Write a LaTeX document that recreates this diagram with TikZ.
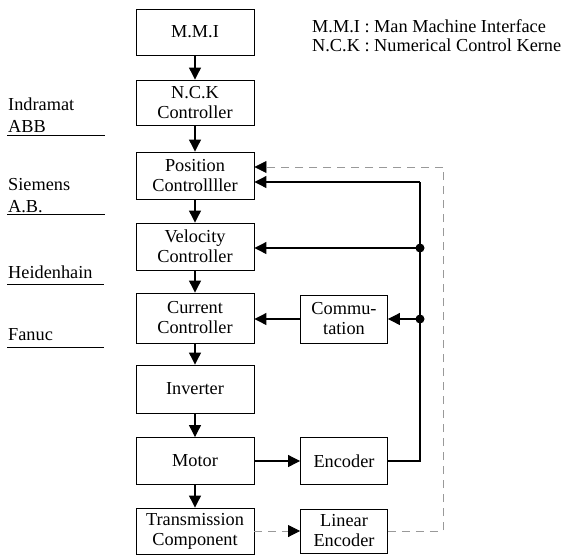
\documentclass[tikz,border=0pt]{standalone}
\usepackage{fontspec}
\setmainfont{Liberation Serif}
\usetikzlibrary{arrows.meta}
\begin{document}
\begin{tikzpicture}[x=1pt,y=-1pt,
  txt/.style={font=\fontsize{18.3}{20}\selectfont},
  box/.style={txt,draw,line width=0.9pt,align=center,inner sep=0pt,minimum width=118pt},
  sbox/.style={txt,draw,line width=0.9pt,align=center,inner sep=0pt,minimum width=87pt},
  conn/.style={line width=1.1pt,-{Triangle[length=12pt,width=12pt]}},
  fline/.style={line width=1.1pt},
  dline/.style={line width=0.8pt,gray!80,dash pattern=on 8pt off 6pt},
  darr/.style={dline,-{Triangle[length=12pt,width=12pt,color=black]}},
  lab/.style={txt,anchor=base west,inner sep=0pt},
  uline/.style={line width=0.8pt},
  dot/.style={circle,fill,inner sep=0pt,minimum size=9pt}
]
\useasboundingbox (0,0) rectangle (561,555);

% main column
\node[box,minimum height=46pt] (mmi) at (195,32) {M.M.I};
\node[box,minimum height=45pt] (nck) at (195,102.5) {N.C.K\\Controller};
\node[box,minimum height=47pt] (pos) at (195,175.5) {Position\\Controllller};
\node[box,minimum height=47pt] (vel) at (195,246.5) {Velocity\\Controller};
\node[box,minimum height=50pt] (cur) at (195,318) {Current\\Controller};
\node[box,minimum height=48pt] (inv) at (195,389) {Inverter};
\node[box,minimum height=47pt] (mot) at (195,461) {Motor};
\node[box,minimum height=46pt] (tra) at (195,531) {Transmission\\Component};

% right column
\node[sbox,minimum height=48pt] (com) at (344,319) {Commu-\\tation};
\node[sbox,minimum height=47pt] (enc) at (344,461) {Encoder};
\node[sbox,minimum height=44pt] (lin) at (344,531) {Linear\\Encoder};

% main chain
\draw[conn] (mmi) -- (nck);
\draw[conn] (nck) -- (pos);
\draw[conn] (pos) -- (vel);
\draw[conn] (vel) -- (cur);
\draw[conn] (cur) -- (inv);
\draw[conn] (inv) -- (mot);
\draw[conn] (mot) -- (tra);
\draw[conn] (mot) -- (enc);
\draw[darr] (tra) -- (lin);

% encoder feedback
\coordinate (fbb) at (420,461);
\coordinate (fbt) at (420,182);
\coordinate (dv) at (420,248);
\coordinate (dc) at (420,319);
\draw[fline] (enc.east) -- (fbb) -- (fbt);
\draw[conn] (fbt) -- (fbt -| pos.east);
\draw[conn] (dv) -- (dv -| vel.east);
\draw[conn] (dc) -- (com.east);
\draw[conn] (com.west) -- (com.west -| cur.east);
\node[dot] at (dv) {};
\node[dot] at (dc) {};

% linear encoder feedback (dashed)
\coordinate (dlb) at (443,531);
\coordinate (dlt) at (443,167);
\draw[dline] (lin.east) -- (dlb) -- (dlt);
\draw[darr] (dlt) -- (dlt -| pos.east);

% left labels
\node[lab] (l1) at (8,110) {Indramat};
\node[lab] (l2) at (8,132) {ABB};
\draw[uline] (7,135) -- (105,135);
\node[lab] (l3) at (8,190) {Siemens};
\node[lab] (l4) at (8,212) {A.B.};
\draw[uline] (7,214) -- (105,214);
\node[lab] (l5) at (8,278) {Heidenhain};
\draw[uline] (7,284) -- (104,284);
\node[lab] (l6) at (8,340) {Fanuc};
\draw[uline] (7,347) -- (104,347);

% legend
\node[lab] (g1) at (312,32) {M.M.I : Man Machine Interface};
\node[lab] (g2) at (312,51) {N.C.K : Numerical Control Kerne};
\end{tikzpicture}
\end{document}
